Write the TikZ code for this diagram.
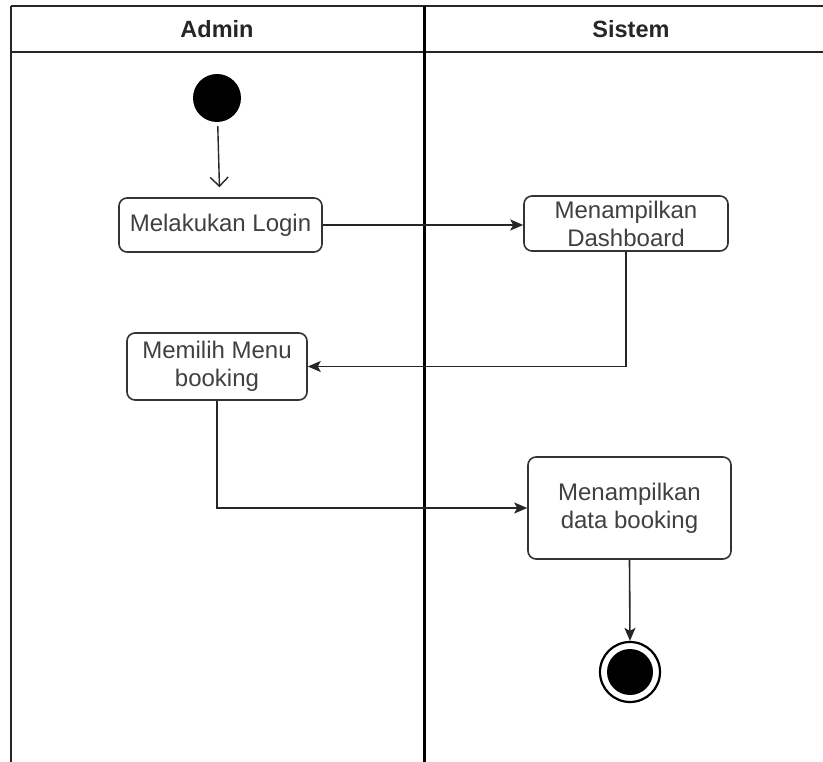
\documentclass[tikz,border=0pt]{standalone}
\usepackage{fontspec}
\setmainfont{Liberation Sans}
\usetikzlibrary{arrows.meta}
\begin{document}
\begin{tikzpicture}[x=1pt,y=-1pt,
 lane/.style={line width=2.2pt, draw=black!85},
 act/.style={draw=black!80, line width=1.6pt, rounded corners=8pt, fill=white, align=center, inner sep=0pt, text=black!75, font=\fontsize{24}{28}\selectfont},
 hdr/.style={font=\bfseries\fontsize{23.5}{26}\selectfont, text=black!85},
 flow/.style={draw=black!85, line width=1.6pt, -{Stealth[length=13pt,width=11pt,inset=3pt]}}]
\useasboundingbox (0,0) rectangle (823,762);
% swimlanes
\draw[lane] (11,6) -- (823,6);
\draw[lane] (11,52) -- (823,52);
\draw[lane] (11,6) -- (11,762);
\draw[lane, line width=3pt, draw=black] (424,6) -- (424,762);
\node[hdr] (hadmin) at (217,29) {Admin};
\node[hdr] (hsistem) at (631,29) {Sistem};
% nodes
\node[circle, fill=black, minimum size=48pt, inner sep=0pt] (start) at (217,98) {};
\node[act, minimum width=203pt, minimum height=54pt] (login) at (220.5,225) {Melakukan Login};
\node[act, minimum width=204pt, minimum height=55pt] (dash) at (626,223.5) {Menampilkan\\Dashboard};
\node[act, minimum width=180pt, minimum height=67pt] (menu) at (217,366.5) {Memilih Menu\\booking};
\node[act, minimum width=203pt, minimum height=102pt] (data) at (629.5,508) {Menampilkan\\data booking};
\node[circle, draw=black, line width=2.2pt, fill=white, minimum size=60pt, inner sep=0pt] (end) at (630,672) {};
\node[circle, fill=black, minimum size=46pt, inner sep=0pt] (endin) at (end) {};
% connectors
\draw[draw=black!85, line width=1.4pt, -{Straight Barb[length=9pt,width=18pt]}, shorten >=10pt, shorten <=4pt] (start) -- (login);
\draw[flow] (login.east) -- (dash.west |- login.east);
\draw[flow] (dash.south) |- (menu.east);
\draw[flow] (menu.south) |- (data.west);
\draw[flow] (data.south) -- (end.north);
\end{tikzpicture}
\end{document}
